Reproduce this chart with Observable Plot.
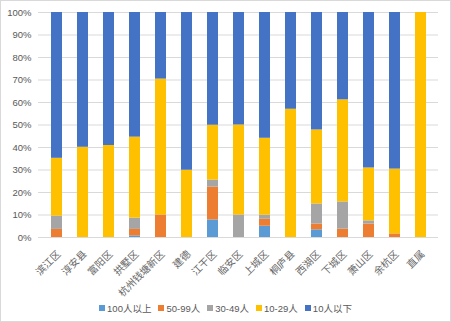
<!DOCTYPE html>
<html><head><meta charset="utf-8">
<script src="https://cdn.jsdelivr.net/npm/d3@7"></script>
<script src="https://cdn.jsdelivr.net/npm/@observablehq/plot@0.6"></script>
<style>
html,body{margin:0;padding:0;background:#fff;}
#chart{box-sizing:border-box;width:451px;height:322px;border:1px solid #d9d9d9;position:relative;overflow:hidden;background:#fff;}
#chart svg{overflow:visible;}
#legend{position:absolute;left:0;right:0;top:300px;display:flex;justify-content:center;gap:7px;font-family:"Liberation Sans","Noto Sans CJK SC",sans-serif;font-size:9.5px;color:#595959;}
#legend .item{display:flex;align-items:center;gap:2px;}
#legend .sw{width:6px;height:6px;display:inline-block;}
</style>
</head><body>
<div id="chart"></div>
<script>
const categories = ["滨江区","淳安县","富阳区","拱墅区","杭州钱塘新区","建德","江干区","临安区","上城区","桐庐县","西湖区","下城区","萧山区","余杭区","直属"];
const seriesNames = ["100人以上","50-99人","30-49人","10-29人","10人以下"];
const seriesColors = ["#5B9BD5","#ED7D31","#A5A5A5","#FFC000","#4472C4"];
const s100 = [0,0,0,0.7,0,0,7.8,0,5.0,0,3.4,0,0,0,0];
const s50 = [3.6,0,0,2.9,10,0,14.6,0,3.1,0,2.6,3.7,6.0,1.6,0];
const s30 = [5.9,0,0,5.0,0,0,3.1,10,1.8,0,8.9,12.1,1.4,0,0];
const s10 = [25.7,40.1,40.9,36.0,60.4,29.9,24.4,40,34.2,57,32.9,45.4,23.5,28.8,100];
const sLess = [64.8,59.9,59.1,55.4,29.6,70.1,50.1,50,55.9,43,52.2,38.8,69.1,69.6,0];
const yTicks = [0,10,20,30,40,50,60,70,80,90,100];

const seriesValues = [s100, s50, s30, s10, sLess];
const data = [];
seriesNames.forEach((s, si) => {
  categories.forEach((c, ci) => {
    data.push({cat: c, series: s, value: seriesValues[si][ci]});
  });
});

const chart = Plot.plot({
  width: 449,
  height: 299,
  marginTop: 11,
  marginLeft: 37,
  marginRight: 12,
  marginBottom: 63,
  style: {fontFamily: '"Liberation Sans","Noto Sans CJK SC",sans-serif', fontSize: "9.5px", color: "#595959", background: "#fff"},
  x: {domain: categories, paddingInner: 0.59, paddingOuter: 0.295, label: null},
  y: {domain: [0, 100], label: null},
  color: {domain: seriesNames, range: seriesColors},
  marks: [
    Plot.ruleY(yTicks, {stroke: "#d9d9d9", strokeWidth: 1}),
    Plot.barY(data, {x: "cat", y: "value", fill: "series"}),
    Plot.axisY(yTicks, {tickSize: 0, tickPadding: 7, tickFormat: d => d + "%", label: null, fill: "#595959"}),
    Plot.axisX({tickSize: 0, tickPadding: 15, dx: 2, tickRotate: -45, label: null, fill: "#666666", fontFamily: '"Noto Sans CJK SC",sans-serif', fontSize: 10})
  ]
});
document.getElementById("chart").appendChild(chart);

const legend = document.createElement("div");
legend.id = "legend";
seriesNames.forEach((s, i) => {
  const it = document.createElement("span");
  it.className = "item";
  const sw = document.createElement("span");
  sw.className = "sw";
  sw.style.background = seriesColors[i];
  it.appendChild(sw);
  it.appendChild(document.createTextNode(s));
  legend.appendChild(it);
});
document.getElementById("chart").appendChild(legend);
</script>
</body></html>
